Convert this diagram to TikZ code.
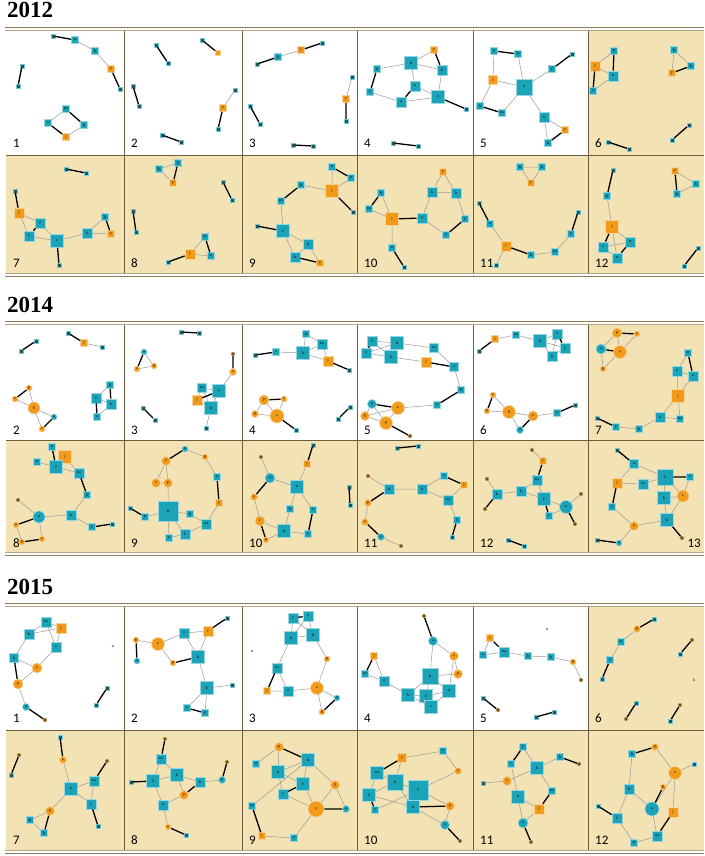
\documentclass[tikz,border=0pt]{standalone}
\usepackage{fontspec}
\usepackage{tikz}
\usetikzlibrary{positioning,calc}
\usepackage{xcolor}
\newfontfamily\yearfont{Liberation Serif}
\newfontfamily\numfont{Carlito}
\definecolor{netteal}{HTML}{1BA3B8}
\definecolor{netorange}{HTML}{F29A1A}
\definecolor{darkteal}{HTML}{1E5358}
\definecolor{darkbrown}{HTML}{6E4F1F}
\definecolor{paneltan}{HTML}{F3E3B4}
\definecolor{rulebrown}{HTML}{8C7A5B}
\definecolor{rulelight}{HTML}{B3A585}
\definecolor{sepbrown}{HTML}{6F5B3E}
\tikzset{
  nodebase/.style={inner sep=0pt, line width=0.6pt, font=\fontsize{4}{4}\selectfont, text=black},
  tsq/.style={nodebase, rectangle, fill=netteal, draw=netteal!45!white, minimum size=#1},
  tsq/.default=7pt,
  osq/.style={nodebase, rectangle, fill=netorange, draw=netorange!45!white, minimum size=#1},
  osq/.default=7pt,
  tci/.style={nodebase, circle, fill=netteal, draw=netteal!45!white, minimum size=#1},
  tci/.default=7pt,
  oci/.style={nodebase, circle, fill=netorange, draw=netorange!45!white, minimum size=#1},
  oci/.default=7pt,
  dk/.style={nodebase, rectangle, fill=darkteal, draw=netteal!60!white, line width=0.3pt, minimum size=3.8pt},
  db/.style={nodebase, circle, fill=darkbrown, draw=netorange!60!white, line width=0.3pt, minimum size=4pt},
  lonely/.style={inner sep=0pt, font=\fontsize{4}{4}\selectfont},
  gl/.style={draw=gray!80, line width=0.5pt},
  bl/.style={draw=black, line width=1.3pt},
  pnum/.style={font=\numfont\fontsize{13}{13}\selectfont, anchor=base west, inner sep=0pt},
  yearhead/.style={font=\yearfont\bfseries\fontsize{23}{23}\selectfont, anchor=base west, inner sep=0pt},
  sepline/.style={draw=sepbrown, line width=0.8pt},
  rulehi/.style={draw=rulebrown, line width=1.5pt},
  rulelo/.style={draw=rulelight, line width=1.3pt}
}
\begin{document}
\begin{tikzpicture}[x=1pt, y=-1pt]
  \useasboundingbox (0,0) rectangle (704,856);
  \fill[white] (0,0) rectangle (704,856);
  \foreach \yr/\ytop/\ymid/\ybot in {2012/31/155/273, 2014/325/440/552, 2015/607/730/850} {
    \fill[paneltan] (588,\ytop) rectangle (704,\ymid);
    \fill[paneltan] (6,\ymid) rectangle (704,\ybot);
    \foreach \x in {124,242,357,473,588} \draw[sepline] (\x,\ytop) -- (\x,\ybot);
    \draw[sepline] (6,\ymid) -- (704,\ymid);
    \draw[rulehi] (5,\ytop-3.5) -- (704,\ytop-3.5);
    \draw[rulelo] (5,\ytop-0.8) -- (704,\ytop-0.8);
    \draw[rulelo] (5,\ybot+0.8) -- (704,\ybot+0.8);
    \draw[rulehi] (5,\ybot+3.3) -- (704,\ybot+3.3);
    \node[yearhead] (head\yr) at (7,\ytop-13) {\yr};
  }
  \foreach \x/\n in {6/1,124/2,242/3,357/4,473/5,588/6} \node[pnum] (a-num\n) at (\x+7,147) {\n};
  \foreach \x/\n in {6/7,124/8,242/9,357/10,473/11,588/12} \node[pnum] (a-num\n) at (\x+7,267) {\n};
  \foreach \x/\n in {6/2,124/3,242/4,357/5,473/6,588/7} \node[pnum] (b-num\n) at (\x+7,434) {\n};
  \foreach \x/\n in {6/8,124/9,242/10,357/11,473/12} \node[pnum] (b-num\n) at (\x+7,547) {\n};
  \node[pnum, anchor=base east] (b-num13) at (701,547) {13};
  \foreach \x/\n in {6/1,124/2,242/3,357/4,473/5,588/6} \node[pnum] (c-num\n) at (\x+7,722) {\n};
  \foreach \x/\n in {6/7,124/8,242/9,357/10,473/11,588/12} \node[pnum] (c-num\n) at (\x+7,844) {\n};

  \node[dk] (a1d1) at (53,36) {}; \node[tsq] (a1z) at (75,40) {z}; \node[tsq] (a1h) at (95,51) {h};
  \node[osq] (a1y) at (111,69) {y}; \node[dk] (a1d2) at (120,89) {};
  \node[dk] (a1d3) at (22,66) {}; \node[dk] (a1d4) at (18,86) {};
  \node[tsq] (a1m) at (66,109) {m}; \node[tsq] (a1o) at (48,123) {o};
  \node[tsq] (a1h2) at (84,125) {h}; \node[osq] (a1j) at (66,137) {j};
  \draw[gl] (a1z) -- (a1h) -- (a1y) (a1m) -- (a1o) (a1j) -- (a1h2);
  \draw[bl] (a1d1) -- (a1z) (a1y) -- (a1d2) (a1d3) -- (a1d4) (a1m) -- (a1h2) (a1o) -- (a1j);

  \node[dk] (a2d1) at (156,45) {}; \node[dk] (a2e) at (168,63) {};
  \node[dk] (a2d2) at (202,40) {}; \node[osq=5pt] (a2d3) at (218,53) {};
  \node[dk] (a2d4) at (133,86) {}; \node[dk] (a2d5) at (139,106) {};
  \node[dk] (a2d6) at (235,90) {}; \node[osq] (a2y) at (223,108) {y}; \node[dk] (a2d7) at (218,129) {};
  \node[dk] (a2d8) at (162,135) {}; \node[dk] (a2d9) at (181,142) {};
  \draw[gl] (a2d6) -- (a2y);
  \draw[bl] (a2d1) -- (a2e) (a2d2) -- (a2d3) (a2d4) -- (a2d5) (a2y) -- (a2d7) (a2d8) -- (a2d9);

  \node[dk] (a3d1) at (257,64) {}; \node[tsq] (a3h) at (278,57) {h}; \node[osq] (a3j) at (301,50) {j};
  \node[dk] (a3d2) at (322,43) {}; \node[dk] (a3d3) at (352,77) {}; \node[osq] (a3y) at (346,99) {y};
  \node[dk] (a3d4) at (346,121) {}; \node[dk] (a3d5) at (250,106) {}; \node[dk] (a3d6) at (260,124) {};
  \node[dk] (a3d7) at (293,145) {}; \node[dk] (a3d8) at (313,146) {};
  \draw[gl] (a3h) -- (a3j) (a3d3) -- (a3y);
  \draw[bl] (a3d1) -- (a3h) (a3j) -- (a3d2) (a3y) -- (a3d4) (a3d5) -- (a3d6) (a3d7) -- (a3d8);

  \node[osq] (a4y) at (434,50) {y}; \node[tsq=13pt] (a4k) at (411,63) {k}; \node[tsq=10pt] (a4h) at (442,70) {h};
  \node[tsq] (a4d) at (377,69) {d}; \node[tsq=10pt] (a4z) at (415,86) {z}; \node[tsq] (a4c) at (370,92) {c};
  \node[tsq=13pt] (a4e) at (438,97) {e}; \node[tsq=10pt] (a4n) at (401,102) {n}; \node[dk] (a4d1) at (466,109) {};
  \node[dk] (a4d2) at (393,143) {}; \node[dk] (a4d3) at (418,146) {};
  \draw[gl] (a4d) -- (a4k) -- (a4y) (a4k) -- (a4h) (a4k) -- (a4z) (a4c) -- (a4n) -- (a4e) (a4z) -- (a4e) (a4h) -- (a4e);
  \draw[bl] (a4y) -- (a4h) (a4d) -- (a4c) (a4z) -- (a4n) (a4e) -- (a4d1) (a4d2) -- (a4d3);

  \node[tsq] (a5z) at (494,51) {z}; \node[tsq] (a5n) at (518,54) {n}; \node[tsq] (a5f) at (552,69) {f};
  \node[dk] (a5d1) at (572,54) {}; \node[osq=9pt] (a5j) at (493,80) {j}; \node[tsq=16pt] (a5e) at (524,87) {e};
  \node[tsq] (a5h) at (480,106) {h}; \node[tsq] (a5m) at (502,113) {m}; \node[tsq=10pt] (a5b) at (544,117) {b};
  \node[osq] (a5y) at (565,130) {y}; \node[tsq] (a5k) at (548,143) {k};
  \draw[gl] (a5z) -- (a5j) -- (a5e) -- (a5n) (a5j) -- (a5h) (a5m) -- (a5e) -- (a5f) (a5e) -- (a5b) -- (a5y) (a5b) -- (a5k);
  \draw[bl] (a5z) -- (a5n) (a5f) -- (a5d1) (a5h) -- (a5m) (a5k) -- (a5y);

  \node[tsq] (a6n) at (614,51) {n}; \node[osq=10pt] (a6j) at (595,66) {j}; \node[tsq=10pt] (a6x) at (613,76) {x};
  \node[tsq] (a6o) at (593,91) {o}; \node[tsq] (a6h) at (674,50) {h}; \node[tsq] (a6k) at (691,66) {k};
  \node[osq] (a6y) at (672,73) {y}; \node[dk] (a6d1) at (608,142) {}; \node[dk] (a6d2) at (629,149) {};
  \node[dk] (a6d3) at (689,125) {}; \node[dk] (a6d4) at (672,140) {};
  \draw[gl] (a6n) -- (a6j) -- (a6x) -- (a6o) (a6h) -- (a6y) (a6h) -- (a6k);
  \draw[bl] (a6n) -- (a6x) (a6j) -- (a6o) (a6y) -- (a6k) (a6d1) -- (a6d2) (a6d3) -- (a6d4);

  \node[dk] (a7d1) at (66,169) {}; \node[dk] (a7d2) at (86,173) {}; \node[dk] (a7d3) at (15,191) {};
  \node[osq=10pt] (a7j) at (19,213) {j}; \node[tsq=10pt] (a7z) at (40,223) {z}; \node[tsq=10pt] (a7o) at (29,236) {o};
  \node[tsq=13pt] (a7r) at (57,241) {r}; \node[dk] (a7d4) at (59,265) {}; \node[tsq=10pt] (a7b) at (87,233) {b};
  \node[tsq] (a7k) at (105,217) {k}; \node[osq] (a7y) at (111,234) {y};
  \draw[gl] (a7j) -- (a7z) -- (a7r) -- (a7o) -- (a7j) (a7r) -- (a7b) -- (a7k) (a7b) -- (a7y);
  \draw[bl] (a7d1) -- (a7d2) (a7d3) -- (a7j) (a7z) -- (a7o) (a7r) -- (a7d4) (a7k) -- (a7y);

  \node[tsq] (a8b) at (159,169) {b}; \node[tsq] (a8k) at (178,163) {k}; \node[osq] (a8y) at (173,183) {y};
  \node[dk] (a8d1) at (223,182) {}; \node[dk] (a8d2) at (232,200) {}; \node[dk] (a8d3) at (133,211) {};
  \node[dk] (a8d4) at (136,232) {}; \node[tsq] (a8n) at (205,237) {n}; \node[osq=10pt] (a8j) at (190,254) {j};
  \node[tsq] (a8z) at (211,256) {z}; \node[dk] (a8d5) at (168,262) {};
  \draw[gl] (a8b) -- (a8k) (a8b) -- (a8y) (a8n) -- (a8j) -- (a8z);
  \draw[bl] (a8k) -- (a8y) (a8d1) -- (a8d2) (a8d3) -- (a8d4) (a8n) -- (a8z) (a8d5) -- (a8j);

  \node[tsq] (a9n) at (332,167) {n}; \node[tsq] (a9z) at (351,178) {z}; \node[osq=13pt] (a9j) at (332,191) {j};
  \node[dk] (a9d1) at (353,212) {}; \node[tsq] (a9h) at (301,185) {h}; \node[tsq] (a9m) at (281,201) {m};
  \node[dk] (a9d2) at (257,226) {}; \node[tsq=13pt] (a9t) at (283,231) {t}; \node[tsq=10pt] (a9b) at (308,244) {b};
  \node[tsq=10pt] (a9k) at (295,257) {k}; \node[osq] (a9y) at (320,263) {y};
  \draw[gl] (a9n) -- (a9j) -- (a9z) (a9h) -- (a9j) (a9m) -- (a9t) -- (a9b) -- (a9k) -- (a9t) (a9b) -- (a9y);
  \draw[bl] (a9n) -- (a9z) (a9j) -- (a9d1) (a9h) -- (a9m) (a9d2) -- (a9t) (a9k) -- (a9y);

  \node[osq] (a10y) at (443,172) {y}; \node[tsq=10pt] (a10k) at (432,192) {k}; \node[tsq=10pt] (a10b) at (456,193) {b};
  \node[tsq] (a10h) at (381,193) {h}; \node[tsq] (a10m) at (369,209) {m}; \node[osq=13pt] (a10j) at (392,219) {j};
  \node[tsq=10pt] (a10o) at (422,218) {o}; \node[tsq] (a10f) at (465,219) {f}; \node[tsq] (a10c) at (446,235) {c};
  \node[tsq] (a10z) at (392,248) {z}; \node[dk] (a10d1) at (404,267) {};
  \draw[gl] (a10y) -- (a10k) -- (a10b) -- (a10y) (a10k) -- (a10o) -- (a10c) (a10b) -- (a10f) (a10h) -- (a10j) -- (a10m) (a10j) -- (a10z);
  \draw[bl] (a10f) -- (a10c) (a10j) -- (a10o) (a10h) -- (a10m) (a10z) -- (a10d1);

  \node[tsq] (a11k) at (520,167) {k}; \node[tsq] (a11b) at (542,167) {b}; \node[osq] (a11y) at (531,183) {y};
  \node[dk] (a11d1) at (479,203) {}; \node[tsq] (a11z) at (490,224) {z}; \node[osq=10pt] (a11j) at (506,246) {j};
  \node[dk] (a11d2) at (496,265) {}; \node[tsq] (a11h) at (531,255) {h}; \node[tsq] (a11m) at (555,252) {m};
  \node[tsq] (a11f) at (571,234) {f}; \node[dk] (a11d3) at (578,212) {};
  \draw[gl] (a11k) -- (a11b) -- (a11y) -- (a11k) (a11z) -- (a11j) -- (a11d2) (a11h) -- (a11m) -- (a11f);
  \draw[bl] (a11d1) -- (a11z) (a11j) -- (a11h) (a11f) -- (a11d3);

  \node[dk] (a12d1) at (613,170) {}; \node[tsq] (a12h) at (607,196) {h}; \node[osq=13pt] (a12j) at (612,227) {j};
  \node[tsq=10pt] (a12o) at (603,247) {o}; \node[tsq=10pt] (a12n) at (630,242) {n}; \node[tsq=10pt] (a12x) at (617,258) {x};
  \node[osq] (a12y) at (675,171) {y}; \node[tsq] (a12b) at (696,184) {b}; \node[tsq] (a12k) at (677,194) {k};
  \node[dk] (a12d2) at (698,248) {}; \node[dk] (a12d3) at (684,266) {};
  \draw[gl] (a12h) -- (a12j) -- (a12n) -- (a12o) -- (a12x) -- (a12j) (a12y) -- (a12b) -- (a12k);
  \draw[bl] (a12d1) -- (a12h) (a12j) -- (a12o) (a12n) -- (a12x) (a12y) -- (a12k) (a12d2) -- (a12d3);

  \node[dk] (b2d1) at (21,351) {}; \node[dk] (b2d2) at (36,341) {}; \node[dk] (b2d3) at (68,333) {};
  \node[osq] (b2j) at (84,343) {j}; \node[dk] (b2d4) at (102,347) {};
  \node[oci=6pt] (b2p) at (29,388) {p}; \node[oci=6pt] (b2c) at (15,399) {c}; \node[oci=12pt] (b2g) at (34,408) {g};
  \node[tci=6pt] (b2a) at (54,417) {a}; \node[oci=6pt] (b2s) at (42,429) {s};
  \node[tsq] (b2k) at (110,385) {k}; \node[tsq=10pt] (b2f) at (96,398) {f}; \node[tsq=10pt] (b2b) at (111,404) {b};
  \node[tsq] (b2e) at (97,417) {e};
  \draw[gl] (b2j) -- (b2d4) (b2p) -- (b2g) -- (b2c) (b2g) -- (b2a) (b2g) -- (b2s) (b2k) -- (b2f) -- (b2b) -- (b2e);
  \draw[bl] (b2d1) -- (b2d2) (b2d3) -- (b2j) (b2p) -- (b2c) (b2a) -- (b2s) (b2k) -- (b2b) (b2f) -- (b2e);

  \node[dk] (b3d1) at (181,332) {}; \node[dk] (b3d2) at (199,333) {}; \node[tci=6pt] (b3a) at (144,352) {a};
  \node[oci=6pt] (b3s) at (137,369) {s}; \node[oci=6pt] (b3g) at (154,366) {g}; \node[db] (b3d3) at (233,354) {};
  \node[oci=7pt] (b3c) at (233,372) {c}; \node[tsq=9pt] (b3m) at (202,388) {m}; \node[tsq=13pt] (b3o) at (219,391) {o};
  \node[osq=10pt] (b3j) at (197,400) {j}; \node[tsq=13pt] (b3h) at (211,408) {h}; \node[dk] (b3d4) at (206,428) {};
  \node[dk] (b3d5) at (143,408) {}; \node[dk] (b3d6) at (155,420) {};
  \draw[gl] (b3a) -- (b3g) -- (b3s) (b3c) -- (b3o) -- (b3m) -- (b3j) -- (b3h) -- (b3m) (b3o) -- (b3h) -- (b3d4);
  \draw[bl] (b3d1) -- (b3d2) (b3a) -- (b3s) (b3d3) -- (b3c) (b3j) -- (b3o) (b3d5) -- (b3d6);

  \node[tsq] (b4k) at (306,334) {k}; \node[tsq=10pt] (b4m) at (322,344) {m}; \node[tsq=13pt] (b4b) at (303,353) {b};
  \node[tsq] (b4c) at (276,352) {c}; \node[dk] (b4d1) at (255,355) {}; \node[osq=10pt] (b4j) at (328,361) {j};
  \node[dk] (b4d2) at (349,370) {}; \node[oci=10pt] (b4p) at (264,400) {p}; \node[oci=6pt] (b4c2) at (284,399) {c};
  \node[oci=7pt] (b4g) at (255,414) {g}; \node[oci=14pt] (b4s) at (277,416) {s}; \node[dk] (b4d3) at (296,430) {};
  \node[dk] (b4d4) at (350,407) {}; \node[dk] (b4d5) at (338,419) {};
  \draw[gl] (b4c) -- (b4b) -- (b4k) -- (b4m) -- (b4b) -- (b4j) -- (b4m) (b4p) -- (b4g) -- (b4s) -- (b4p) (b4c2) -- (b4s);
  \draw[bl] (b4d1) -- (b4c) (b4j) -- (b4d2) (b4p) -- (b4c2) (b4s) -- (b4d3) (b4d4) -- (b4d5);

  \node[tsq=10pt] (b5f) at (372,341) {f}; \node[tsq=13pt] (b5k) at (397,343) {k}; \node[tsq=10pt] (b5e) at (366,353) {e};
  \node[tsq=13pt] (b5b) at (391,357) {b}; \node[tsq=9pt] (b5m) at (434,348) {m}; \node[osq=10pt] (b5j) at (426,362) {j};
  \node[tsq=9pt] (b5e2) at (454,367) {e}; \node[tsq] (b5n) at (461,390) {n}; \node[tsq] (b5z) at (437,405) {z};
  \node[tci=9pt] (b5a) at (372,404) {a}; \node[oci=13pt] (b5s) at (398,408) {s}; \node[oci=9pt] (b5g) at (365,416) {g};
  \node[oci=13pt] (b5p) at (386,423) {p}; \node[db] (b5d1) at (410,436) {};
  \draw[gl] (b5f) -- (b5k) -- (b5b) -- (b5f) (b5e) -- (b5k) (b5e) -- (b5b) (b5k) -- (b5m) -- (b5e2) -- (b5n) (b5b) -- (b5j)
    (b5z) -- (b5s) (b5a) -- (b5g) -- (b5s) -- (b5p) -- (b5g) (b5a) -- (b5p);
  \draw[bl] (b5f) -- (b5e) (b5j) -- (b5e2) (b5n) -- (b5z) (b5a) -- (b5s) (b5p) -- (b5d1);

  \node[dk] (b6d1) at (479,351) {}; \node[osq] (b6j) at (495,339) {j}; \node[tsq] (b6m) at (516,335) {m};
  \node[tsq=13pt] (b6b) at (540,341) {b}; \node[tsq=10pt] (b6c) at (557,334) {c}; \node[tsq=10pt] (b6f) at (565,348) {f};
  \node[tsq=10pt] (b6k) at (552,356) {k}; \node[oci=6pt] (b6c2) at (493,395) {c}; \node[oci=6pt] (b6p) at (487,411) {p};
  \node[oci=13pt] (b6g) at (509,412) {g}; \node[oci=10pt] (b6s) at (533,416) {s}; \node[tci=7pt] (b6a) at (520,430) {a};
  \node[tsq] (b6z) at (557,413) {z}; \node[dk] (b6d2) at (575,405) {};
  \draw[gl] (b6j) -- (b6m) -- (b6b) -- (b6c) -- (b6k) -- (b6b) -- (b6f) -- (b6k) (b6c2) -- (b6g) -- (b6p) (b6g) -- (b6s) -- (b6z) (b6g) -- (b6a);
  \draw[bl] (b6d1) -- (b6j) (b6c) -- (b6f) (b6c2) -- (b6p) (b6s) -- (b6a) (b6z) -- (b6d2);

  \node[oci=10pt] (b7p) at (617,333) {p}; \node[oci=6pt] (b7r) at (637,334) {r}; \node[tci=10pt] (b7a) at (601,349) {a};
  \node[oci=13pt] (b7s) at (620,352) {s}; \node[oci=6pt] (b7g) at (603,369) {g};
  \node[tsq] (b7n) at (688,353) {n}; \node[tsq=10pt] (b7e) at (677,371) {e}; \node[tsq=10pt] (b7z) at (693,376) {z};
  \node[osq=13pt] (b7j) at (678,396) {j}; \node[tsq=10pt] (b7b) at (660,417) {b}; \node[tsq] (b7m) at (680,419) {m};
  \node[tsq] (b7k) at (639,429) {k}; \node[tsq] (b7f) at (616,427) {f}; \node[dk] (b7d1) at (597,418) {};
  \draw[gl] (b7a) -- (b7p) -- (b7s) -- (b7r) (b7a) -- (b7g) -- (b7s) (b7n) -- (b7e) -- (b7z) -- (b7j) -- (b7e)
    (b7j) -- (b7b) -- (b7m) -- (b7j) (b7b) -- (b7k) -- (b7f);
  \draw[bl] (b7p) -- (b7r) (b7a) -- (b7s) (b7n) -- (b7z) (b7f) -- (b7d1);

  \node[tsq] (b8z) at (52,447) {z}; \node[osq=13pt] (b8j) at (65,457) {j}; \node[tsq] (b8n) at (37,462) {n};
  \node[tsq=13pt] (b8a) at (56,467) {a}; \node[tsq=10pt] (b8m) at (79,473) {m}; \node[tsq] (b8b) at (87,495) {b};
  \node[tsq=10pt] (b8k) at (71,515) {k}; \node[tsq] (b8f) at (92,527) {f}; \node[dk] (b8d1) at (112,524) {};
  \node[db] (b8d2) at (18,500) {}; \node[tci=12pt] (b8a2) at (39,517) {a}; \node[oci=6pt] (b8s) at (16,525) {s};
  \node[oci=6pt] (b8c) at (42,539) {c}; \node[oci=6pt] (b8p) at (22,542) {p};
  \draw[gl] (b8n) -- (b8a) -- (b8m) -- (b8j) (b8b) -- (b8k) -- (b8f) (b8k) -- (b8a2) -- (b8d2) (b8a2) -- (b8c) (b8s) -- (b8p);
  \draw[bl] (b8z) -- (b8a) (b8m) -- (b8b) (b8f) -- (b8d1) (b8a2) -- (b8s) (b8p) -- (b8c);

  \node[tci=6pt] (b9a) at (185,449) {a}; \node[oci=6pt] (b9g) at (205,457) {g}; \node[oci=9pt] (b9s) at (166,461) {s};
  \node[tsq] (b9e) at (217,477) {e}; \node[oci=9pt] (b9c) at (156,483) {c}; \node[oci=9pt] (b9p) at (168,483) {p};
  \node[osq] (b9j) at (219,503) {j}; \node[tsq=20pt] (b9k) at (168,511) {k}; \node[tsq] (b9h) at (190,514) {h};
  \node[dk] (b9d1) at (130,508) {}; \node[tsq] (b9n) at (145,517) {n}; \node[tsq=10pt] (b9m) at (206,524) {m};
  \node[tsq=10pt] (b9f) at (185,534) {f}; \node[tsq] (b9e2) at (169,538) {e};
  \draw[gl] (b9a) -- (b9g) -- (b9e) (b9j) -- (b9m) (b9s) -- (b9c) -- (b9p) -- (b9s) (b9p) -- (b9k) -- (b9n)
    (b9k) -- (b9h) -- (b9m) -- (b9f) -- (b9k) -- (b9e2) -- (b9f);
  \draw[bl] (b9s) -- (b9a) (b9e) -- (b9j) (b9d1) -- (b9n);

  \node[db] (b10d1) at (261,457) {}; \node[tci=10pt] (b10a) at (270,478) {a}; \node[oci=7pt] (b10s) at (254,497) {s};
  \node[dk] (b10d2) at (313,445) {}; \node[osq] (b10j) at (307,464) {j}; \node[tsq=13pt] (b10n) at (297,487) {n};
  \node[tsq] (b10b) at (290,509) {b}; \node[tsq] (b10c) at (313,510) {c}; \node[oci=10pt] (b10c2) at (260,521) {c};
  \node[tsq=13pt] (b10k) at (284,531) {k}; \node[tsq] (b10f) at (308,534) {f}; \node[oci=6pt] (b10p) at (266,540) {p};
  \node[dk] (b10d3) at (349,487) {}; \node[dk] (b10d4) at (350,505) {};
  \draw[gl] (b10d1) -- (b10a) -- (b10n) -- (b10j) (b10n) -- (b10b) -- (b10k) (b10n) -- (b10c) (b10s) -- (b10c2) -- (b10k) -- (b10f) (b10p) -- (b10k);
  \draw[bl] (b10a) -- (b10s) (b10d2) -- (b10j) (b10c) -- (b10f) (b10c2) -- (b10p) (b10d3) -- (b10d4);

  \node[dk] (b11z) at (397,448) {}; \node[dk] (b11n) at (418,446) {}; \node[db] (b11d1) at (368,476) {};
  \node[tsq=10pt] (b11h) at (389,489) {h}; \node[tsq=10pt] (b11b) at (422,489) {b}; \node[tsq] (b11e) at (444,476) {e};
  \node[osq] (b11j) at (464,485) {j}; \node[tsq=10pt] (b11m) at (448,500) {m}; \node[tsq] (b11f) at (457,520) {f};
  \node[dk] (b11c) at (452,537) {}; \node[oci=7pt] (b11p) at (368,503) {p}; \node[oci=7pt] (b11s) at (365,522) {s};
  \node[tci=7pt] (b11a) at (381,537) {a}; \node[db] (b11d2) at (401,546) {};
  \draw[gl] (b11d1) -- (b11h) -- (b11b) -- (b11e) (b11b) -- (b11m) -- (b11j) (b11m) -- (b11f) (b11p) -- (b11s) (b11a) -- (b11d2);
  \draw[bl] (b11z) -- (b11n) (b11h) -- (b11p) (b11e) -- (b11j) (b11f) -- (b11c) (b11s) -- (b11a);

  \node[db] (b12d1) at (532,450) {}; \node[osq] (b12j) at (543,461) {j}; \node[tsq=10pt] (b12m) at (537,480) {m};
  \node[tsq=10pt] (b12b) at (521,491) {b}; \node[tsq=10pt] (b12k) at (497,494) {k}; \node[tsq=13pt] (b12f) at (544,499) {f};
  \node[tsq] (b12c) at (549,516) {c}; \node[tci=13pt] (b12a) at (566,507) {a}; \node[db] (b12d2) at (487,479) {};
  \node[db] (b12d3) at (485,509) {}; \node[db] (b12d4) at (581,494) {}; \node[db] (b12d5) at (575,524) {};
  \node[dk] (b12d6) at (508,540) {}; \node[dk] (b12d7) at (524,546) {};
  \draw[gl] (b12d1) -- (b12j) (b12m) -- (b12b) -- (b12f) -- (b12m) (b12k) -- (b12b) (b12d2) -- (b12k) (b12f) -- (b12a) -- (b12c) (b12a) -- (b12d4);
  \draw[bl] (b12j) -- (b12m) (b12k) -- (b12d3) (b12f) -- (b12c) (b12a) -- (b12d5) (b12d6) -- (b12d7);

  \node[dk] (b13d1) at (617,450) {}; \node[tsq=9pt] (b13a) at (634,464) {a}; \node[osq=10pt] (b13j) at (617,483) {j};
  \node[tsq=10pt] (b13m) at (643,484) {m}; \node[tsq=16pt] (b13f) at (665,477) {f}; \node[tsq] (b13c) at (690,477) {c};
  \node[oci=12pt] (b13r) at (683,496) {r}; \node[tsq=13pt] (b13b) at (664,498) {b}; \node[tsq] (b13e) at (612,507) {e};
  \node[tsq=13pt] (b13k) at (667,520) {k}; \node[oci=9pt] (b13s) at (634,526) {s}; \node[dk] (b13d2) at (597,540) {};
  \node[tci=6pt] (b13a2) at (619,543) {a}; \node[db] (b13d3) at (682,538) {};
  \draw[gl] (b13j) -- (b13a) -- (b13f) -- (b13m) -- (b13j) (b13f) -- (b13r) -- (b13c) (b13f) -- (b13b) -- (b13r) -- (b13k) -- (b13b)
    (b13e) -- (b13s) -- (b13k) (b13a2) -- (b13s);
  \draw[bl] (b13d1) -- (b13a) (b13f) -- (b13c) (b13j) -- (b13e) (b13k) -- (b13d3) (b13d2) -- (b13a2);

  \node[tsq=10pt] (c1m) at (46,622) {m}; \node[osq=10pt] (c1j) at (61,628) {j}; \node[tsq=10pt] (c1b) at (29,634) {b};
  \node[tsq=10pt] (c1o) at (56,647) {o}; \node[tsq=9pt] (c1k) at (14,658) {k}; \node[oci=10pt] (c1s) at (37,668) {s};
  \node[oci=10pt] (c1p) at (18,684) {p}; \node[tci=7pt] (c1a) at (26,707) {a}; \node[db] (c1d1) at (45,720) {};
  \node[lonely] (c1n) at (113,647) {n}; \node[dk] (c1d2) at (107,688) {}; \node[dk] (c1d3) at (96,705) {};
  \draw[gl] (c1b) -- (c1m) -- (c1j) -- (c1o) -- (c1m) (c1b) -- (c1j) (c1b) -- (c1k) -- (c1s) -- (c1o) (c1s) -- (c1p) -- (c1a);
  \draw[bl] (c1k) -- (c1p) (c1a) -- (c1d1) (c1d2) -- (c1d3);

  \node[oci=6pt] (c2g) at (136,640) {g}; \node[oci=13pt] (c2s) at (158,644) {s}; \node[tci=6pt] (c2a) at (137,661) {a};
  \node[oci=6pt] (c2p) at (173,663) {p}; \node[tsq=10pt] (c2o) at (184,633) {o}; \node[osq=10pt] (c2j) at (208,631) {j};
  \node[dk] (c2d1) at (227,618) {}; \node[tsq=13pt] (c2k) at (198,657) {k}; \node[tsq=13pt] (c2b) at (207,688) {b};
  \node[dk] (c2d2) at (232,685) {}; \node[tsq] (c2e) at (187,708) {e}; \node[tsq] (c2f) at (205,713) {f};
  \draw[gl] (c2g) -- (c2s) -- (c2o) -- (c2j) -- (c2k) -- (c2o) (c2s) -- (c2p) (c2k) -- (c2b) -- (c2d2) (c2b) -- (c2e) (c2b) -- (c2f);
  \draw[bl] (c2g) -- (c2a) (c2p) -- (c2k) (c2j) -- (c2d1) (c2e) -- (c2f);

  \node[tsq=10pt] (c3f) at (293,618) {f}; \node[tsq=10pt] (c3c) at (308,616) {c}; \node[tsq=13pt] (c3b) at (291,638) {b};
  \node[tsq=13pt] (c3k) at (313,635) {k}; \node[oci=6pt] (c3p) at (327,659) {p}; \node[tsq=10pt] (c3m) at (277,668) {m};
  \node[osq] (c3j) at (267,691) {j}; \node[tsq=10pt] (c3e) at (288,691) {e}; \node[oci=13pt] (c3s) at (317,688) {s};
  \node[tci=6pt] (c3a) at (337,698) {a}; \node[oci=6pt] (c3g) at (322,712) {g}; \node[lonely] (c3n) at (252,652) {n};
  \draw[gl] (c3f) -- (c3b) -- (c3c) -- (c3k) -- (c3b) (c3f) -- (c3k) (c3b) -- (c3m) -- (c3e) -- (c3j) (c3k) -- (c3p) -- (c3s) -- (c3e)
    (c3s) -- (c3a) (c3s) -- (c3g);
  \draw[bl] (c3f) -- (c3c) (c3m) -- (c3j) (c3a) -- (c3g);

  \node[db] (c4d1) at (424,616) {}; \node[tci=9pt] (c4a) at (433,641) {a}; \node[oci=9pt] (c4s) at (454,656) {s};
  \node[oci=9pt] (c4p) at (458,674) {p}; \node[osq] (c4j) at (374,656) {j}; \node[tsq] (c4m) at (365,674) {m};
  \node[tsq=10pt] (c4o) at (384,681) {o}; \node[tsq=16pt] (c4k) at (430,676) {k}; \node[tsq=13pt] (c4n) at (449,691) {n};
  \node[tsq=13pt] (c4b) at (408,695) {b}; \node[tsq=13pt] (c4f) at (426,696) {f}; \node[tsq=13pt] (c4c) at (431,707) {c};
  \draw[gl] (c4a) -- (c4s) -- (c4p) -- (c4k) -- (c4a) (c4s) -- (c4n) (c4j) -- (c4o) -- (c4m) (c4o) -- (c4b) -- (c4k) -- (c4f) -- (c4n)
    (c4b) -- (c4f) (c4b) -- (c4c) -- (c4n) -- (c4k);
  \draw[bl] (c4d1) -- (c4a) (c4j) -- (c4m);

  \node[osq] (c5j) at (490,638) {j}; \node[tsq] (c5e) at (483,655) {e}; \node[tsq=10pt] (c5m) at (504,652) {m};
  \node[tsq] (c5b) at (528,656) {b}; \node[tsq] (c5k) at (551,657) {k}; \node[oci=6pt] (c5p) at (573,662) {p};
  \node[db] (c5d1) at (581,680) {}; \node[lonely] (c5n) at (547,630) {n}; \node[dk] (c5d2) at (483,698) {};
  \node[db] (c5d3) at (498,710) {}; \node[dk] (c5d4) at (536,717) {}; \node[dk] (c5d5) at (554,712) {};
  \draw[gl] (c5j) -- (c5e) -- (c5m) -- (c5b) -- (c5k) -- (c5p) -- (c5d1);
  \draw[bl] (c5j) -- (c5m) (c5d2) -- (c5d3) (c5d4) -- (c5d5);

  \node[dk] (c6d1) at (654,619) {}; \node[oci=7pt] (c6p) at (637,629) {p}; \node[tsq] (c6n) at (621,642) {n};
  \node[tsq] (c6f) at (610,660) {f}; \node[dk] (c6d2) at (602,679) {}; \node[db] (c6d3) at (692,640) {};
  \node[dk] (c6d4) at (680,654) {}; \node[lonely] (c6b) at (694,680) {b}; \node[dk] (c6d5) at (636,703) {};
  \node[db] (c6d6) at (626,719) {}; \node[db] (c6d7) at (680,705) {}; \node[dk] (c6d8) at (670,721) {};
  \draw[gl] (c6p) -- (c6n) -- (c6f);
  \draw[bl] (c6d1) -- (c6p) (c6f) -- (c6d2) (c6d3) -- (c6d4) (c6d5) -- (c6d6) (c6d7) -- (c6d8);

  \node[db] (c7d1) at (19,755) {}; \node[dk] (c7d2) at (11,775) {}; \node[dk] (c7d3) at (60,737) {};
  \node[oci=7pt] (c7s) at (63,760) {s}; \node[tsq=13pt] (c7a) at (71,789) {a}; \node[tsq=10pt] (c7m) at (94,781) {m};
  \node[db] (c7d4) at (107,761) {}; \node[tsq=10pt] (c7f) at (91,804) {f}; \node[dk] (c7d5) at (98,826) {};
  \node[oci=9pt] (c7p) at (50,811) {p}; \node[tsq] (c7h) at (30,820) {h}; \node[tsq] (c7k) at (44,833) {k};
  \draw[gl] (c7s) -- (c7a) -- (c7m) -- (c7f) -- (c7a) -- (c7p) -- (c7h) -- (c7k);
  \draw[bl] (c7d1) -- (c7d2) (c7d3) -- (c7s) (c7m) -- (c7d4) (c7f) -- (c7d5) (c7p) -- (c7k);

  \node[db] (c8d1) at (165,739) {}; \node[tsq=10pt] (c8m) at (161,759) {m}; \node[tsq=13pt] (c8f) at (153,781) {f};
  \node[dk] (c8d2) at (131,782) {}; \node[tsq=13pt] (c8b) at (177,775) {b}; \node[tsq=10pt] (c8k) at (200,782) {k};
  \node[tci=7pt] (c8a) at (222,780) {a}; \node[db] (c8d3) at (227,762) {}; \node[oci=9pt] (c8p) at (184,795) {p};
  \node[tsq=10pt] (c8n) at (163,805) {n}; \node[oci=6pt] (c8s) at (168,827) {s}; \node[dk] (c8d4) at (186,835) {};
  \draw[gl] (c8m) -- (c8f) -- (c8b) -- (c8m) (c8b) -- (c8k) -- (c8a) (c8b) -- (c8p) -- (c8n) -- (c8f) (c8n) -- (c8s);
  \draw[bl] (c8d1) -- (c8m) (c8d2) -- (c8f) (c8k) -- (c8p) (c8a) -- (c8d3) (c8s) -- (c8d4);

  \node[oci=9pt] (c9p) at (279,747) {p}; \node[tsq] (c9n) at (256,764) {n}; \node[tsq=13pt] (c9k) at (308,760) {k};
  \node[tsq=13pt] (c9b) at (278,772) {b}; \node[tsq=13pt] (c9f) at (303,784) {f}; \node[oci=9pt] (c9g) at (335,785) {g};
  \node[tsq=10pt] (c9c) at (283,794) {c}; \node[oci=16pt] (c9s) at (316,809) {s}; \node[tci=7pt] (c9a) at (346,809) {a};
  \node[tsq] (c9m) at (252,806) {m}; \node[osq] (c9j) at (262,836) {j}; \node[tsq] (c9e) at (294,838) {e};
  \draw[gl] (c9n) -- (c9p) -- (c9b) -- (c9k) -- (c9f) -- (c9b) -- (c9c) -- (c9s) -- (c9f) (c9k) -- (c9g) -- (c9s) (c9g) -- (c9a)
    (c9m) -- (c9k) (c9j) -- (c9e) -- (c9s);
  \draw[bl] (c9p) -- (c9k) (c9f) -- (c9c) (c9s) -- (c9a) (c9m) -- (c9j);

  \node[osq=9pt] (c10j) at (402,758) {j}; \node[tsq] (c10o) at (443,751) {o}; \node[tsq=13pt] (c10m) at (377,773) {m};
  \node[tsq=16pt] (c10b) at (395,782) {b}; \node[tsq=20pt] (c10e) at (418,790) {e}; \node[oci=7pt] (c10s) at (458,771) {s};
  \node[tsq=13pt] (c10f) at (369,795) {f}; \node[tsq] (c10c) at (375,810) {c}; \node[tsq=13pt] (c10k) at (413,807) {k};
  \node[oci=9pt] (c10p) at (450,806) {p}; \node[tci=9pt] (c10a) at (445,825) {a}; \node[db] (c10d1) at (460,841) {};
  \draw[gl] (c10j) -- (c10o) -- (c10s) -- (c10e) -- (c10b) -- (c10j) (c10m) -- (c10b) -- (c10f) -- (c10m) (c10f) -- (c10k) -- (c10b)
    (c10c) -- (c10e) -- (c10p) -- (c10a) -- (c10k);
  \draw[bl] (c10j) -- (c10m) (c10f) -- (c10c) (c10k) -- (c10p) (c10a) -- (c10d1);

  \node[tsq] (c11f) at (523,747) {f}; \node[tsq] (c11c) at (511,764) {c}; \node[tsq=13pt] (c11b) at (537,768) {b};
  \node[tsq] (c11k) at (560,757) {k}; \node[db] (c11d1) at (579,764) {}; \node[dk] (c11d2) at (483,783) {};
  \node[oci=9pt] (c11s) at (507,781) {s}; \node[tsq] (c11m) at (552,791) {m}; \node[tsq=13pt] (c11n) at (518,797) {n};
  \node[osq=10pt] (c11j) at (539,809) {j}; \node[tci=10pt] (c11a) at (523,823) {a}; \node[db] (c11d3) at (531,842) {};
  \draw[gl] (c11f) -- (c11b) -- (c11k) (c11s) -- (c11b) -- (c11m) (c11d2) -- (c11s) (c11c) -- (c11n) -- (c11j) -- (c11a) -- (c11n);
  \draw[bl] (c11f) -- (c11c) (c11k) -- (c11d1) (c11m) -- (c11j) (c11a) -- (c11d3);

  \node[oci=7pt] (c12p) at (655,747) {p}; \node[tsq] (c12h) at (632,754) {h}; \node[oci=13pt] (c12s) at (675,773) {s};
  \node[dk] (c12d1) at (694,764) {}; \node[oci=6pt] (c12g) at (663,787) {g}; \node[tsq=10pt] (c12b) at (629,789) {b};
  \node[tci=14pt] (c12a) at (652,809) {a}; \node[osq=10pt] (c12j) at (673,812) {j}; \node[dk] (c12d2) at (598,806) {};
  \node[tsq=10pt] (c12f) at (617,818) {f}; \node[tsq=10pt] (c12m) at (657,836) {m}; \node[tsq] (c12n) at (634,843) {n};
  \draw[gl] (c12p) -- (c12s) -- (c12d1) (c12s) -- (c12a) (c12s) -- (c12j) (c12h) -- (c12b) -- (c12a) -- (c12m) -- (c12n) -- (c12f) -- (c12b);
  \draw[bl] (c12h) -- (c12p) (c12g) -- (c12a) (c12d2) -- (c12f) (c12m) -- (c12j);
\end{tikzpicture}
\end{document}
